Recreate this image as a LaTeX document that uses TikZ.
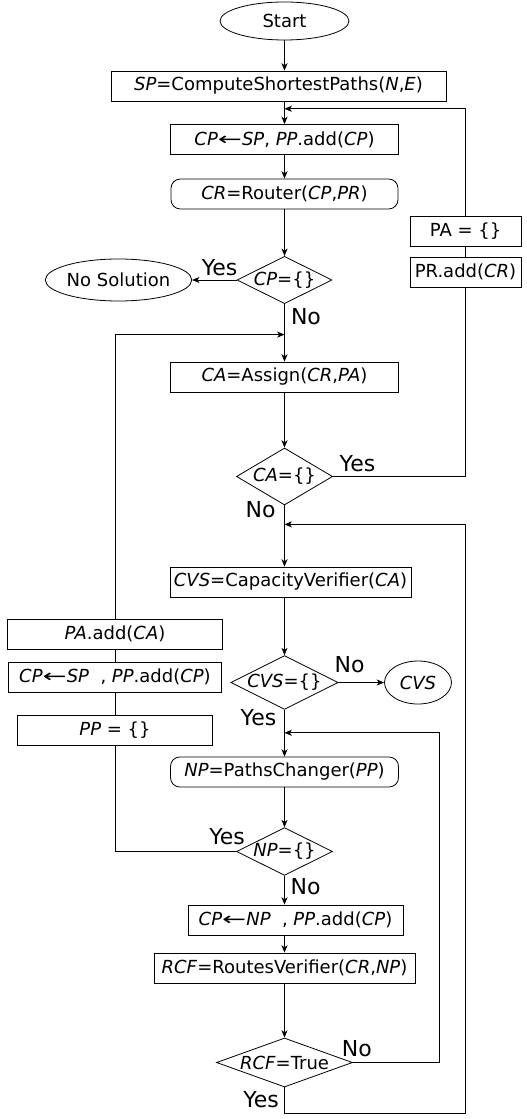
\documentclass[tikz,border=0pt]{standalone}
\usepackage{fontspec}
\setmainfont{DejaVu Sans}
\usetikzlibrary{arrows.meta, positioning, shapes.geometric}

\newcommand{\assignarrow}{\scalebox{1.6}[1]{←}}

\begin{document}
\begin{tikzpicture}[on grid, line width=0.6pt,
	process/.style={draw, rectangle, minimum height=22.5pt, inner sep=1pt, font=\fontsize{13.5}{16}\selectfont},
	rprocess/.style={process, rounded corners=7pt},
	decision/.style={draw, diamond, aspect=2, inner sep=0pt, font=\fontsize{13.5}{16}\selectfont},
	terminal/.style={draw, ellipse, inner sep=0pt, font=\fontsize{13.5}{16}\selectfont},
	answer/.style={inner sep=0pt, font=\fontsize{16.5}{18}\selectfont},
	flow/.style={-{Stealth[length=5.5pt, width=4.5pt, inset=1.5pt]}}]
	\useasboundingbox (0,0) rectangle (394.5pt,-839.25pt);
	% main column
	\node[terminal, minimum width=96.75pt, minimum height=28.5pt] (start) at (213.375pt,-15.75pt) {Start};
	\node[process, minimum width=251.25pt] (sp) [below left=48.75pt and 4.5pt of start] {\textit{SP}=ComputeShortestPaths(\textit{N},\textit{E})};
	\node[process, minimum width=171pt] (cp) [below right=40.125pt and 4.5pt of sp] {\textit{CP}\assignarrow\textit{SP}, \textit{PP}.add(\textit{CP})};
	\node[rprocess, minimum width=170.25pt] (cr) [below=40.875pt of cp] {\textit{CR}=Router(\textit{CP},\textit{PR})};
	\node[decision, minimum width=71.25pt, minimum height=35.25pt] (d1) [below=64.5pt of cr] {\textit{CP}=\{\}};
	\node[process, minimum width=171pt] (ca) [below=72.75pt of d1] {\textit{CA}=Assign(\textit{CR},\textit{PA})};
	\node[decision, minimum width=72pt, minimum height=42.75pt] (d2) [below=74.625pt of ca] {\textit{CA}=\{\}};
	\node[process, minimum width=180.75pt] (cvs) [below right=79.125pt and 4.5pt of d2] {\textit{CVS}=CapacityVerifier(\textit{CA})};
	\node[decision, minimum width=78.75pt, minimum height=39.75pt] (d3) [below left=75.375pt and 4.5pt of cvs] {\textit{CVS}=\{\}};
	\node[rprocess, minimum width=171pt] (np) [below=67.125pt of d3] {\textit{NP}=PathsChanger(\textit{PP})};
	\node[decision, minimum width=72pt, minimum height=35.25pt] (d4) [below=59.625pt of np] {\textit{NP}=\{\}};
	\node[process, minimum width=161.25pt] (cpn) [below right=51.375pt and 8.25pt of d4] {\textit{CP}\assignarrow\textit{NP}\ \ , \textit{PP}.add(\textit{CP})};
	\node[process, minimum width=195.75pt] (rcf) [below left=36pt and 8.25pt of cpn] {\textit{RCF}=RoutesVerifier(\textit{CR},\textit{NP})};
	\node[decision, aspect=2.8, minimum width=102pt, minimum height=36.75pt] (d5) [below=70.875pt of rcf] {\textit{RCF}=True};
	% side nodes
	\node[terminal, minimum width=96.75pt, minimum height=31.5pt] (nosol) [left=124.5pt of d1] {No Solution};
	\node[process, minimum width=83.25pt] (pr) [above right=6pt and 135.75pt of d1] {PR.add(\textit{CR})};
	\node[process, minimum width=83.25pt] (pa) [above=30.75pt of pr] {PA = \{\}};
	\node[terminal, minimum width=50.25pt, minimum height=32.25pt] (cvsend) [right=100.125pt of d3] {\textit{CVS}};
	\node[process, minimum width=159.75pt] (cps) [above left=4.125pt and 127.125pt of d3] {\textit{CP}\assignarrow\textit{SP}\ \ , \textit{PP}.add(\textit{CP})};
	\node[process, minimum width=161.25pt] (paadd) [above=32.25pt of cps] {\textit{PA}.add(\textit{CA})};
	\node[process, minimum width=146.25pt] (ppe) [below=39.75pt of cps] {\textit{PP} = \{\}};
	% yes / no
	\node[answer] (yes1) [above left=9pt and 12.75pt of d1.west, anchor=center] {Yes};
	\node[answer] (no1) [below right=9.375pt and 16.1pt of d1.south, anchor=center] {No};
	\node[answer] (yes2) [above right=9.75pt and 18.4pt of d2.east, anchor=center] {Yes};
	\node[answer] (no2) [below left=3pt and 18pt of d2.south, anchor=center] {No};
	\node[answer] (no3) [above right=13.5pt and 8.25pt of d3.east, anchor=center] {No};
	\node[answer] (yes3) [below left=6pt and 19.5pt of d3.south, anchor=center] {Yes};
	\node[answer] (yes4) [above left=11.25pt and 6.75pt of d4.west, anchor=center] {Yes};
	\node[answer] (no4) [below right=8.25pt and 15.75pt of d4.south, anchor=center] {No};
	\node[answer] (no5) [above right=10.5pt and 3pt of d5.east, anchor=center] {No};
	\node[answer] (yes5) [below left=9pt and 17.6pt of d5.south, anchor=center] {Yes};
	% joins
	\coordinate[above=11.5pt of cp.north] (j1);
	\coordinate[above=20.25pt of ca.north] (j2);
	\coordinate[below=14.25pt of d2.south] (j3);
	\coordinate[below=17.25pt of d3.south] (j4);
	\coordinate[right=64.9pt of d5.east] (c4);
	\coordinate[below=19.5pt of d5.south] (c5);

	\path[flow]
	(start) edge (sp.north -| start)
	(sp.south -| cp) edge (cp)
	(cp) edge (cr)
	(cr) edge (d1)
	(d1) edge (ca)
	(ca) edge (d2)
	(d2) edge (cvs.north -| d2)
	(cvs.south -| d3) edge (d3)
	(d3) edge (np)
	(np) edge (d4)
	(d4) edge (cpn.north -| d4)
	(cpn.south -| rcf) edge (rcf)
	(rcf) edge (d5);

	\draw[flow] (d1.west) -- (nosol.east);
	\draw[flow] (d3.east) -- (cvsend.west);
	\draw (d2.east) -| (pr.south);
	\draw (pr.north) -- (pa.south);
	\draw[flow] (pa.north) |- (j1);
	\draw (d4.west) -| (ppe.south);
	\draw (ppe.north) -- (cps.south);
	\draw (cps.north) -- (paadd.south);
	\draw[flow] (paadd.north) |- (j2);
	\draw[flow] (d5.east) -- (c4) |- (j4);
	\draw[flow] (d5.south) -- (c5) -- (c5 -| pr) |- (j3);
\end{tikzpicture}
\end{document}
